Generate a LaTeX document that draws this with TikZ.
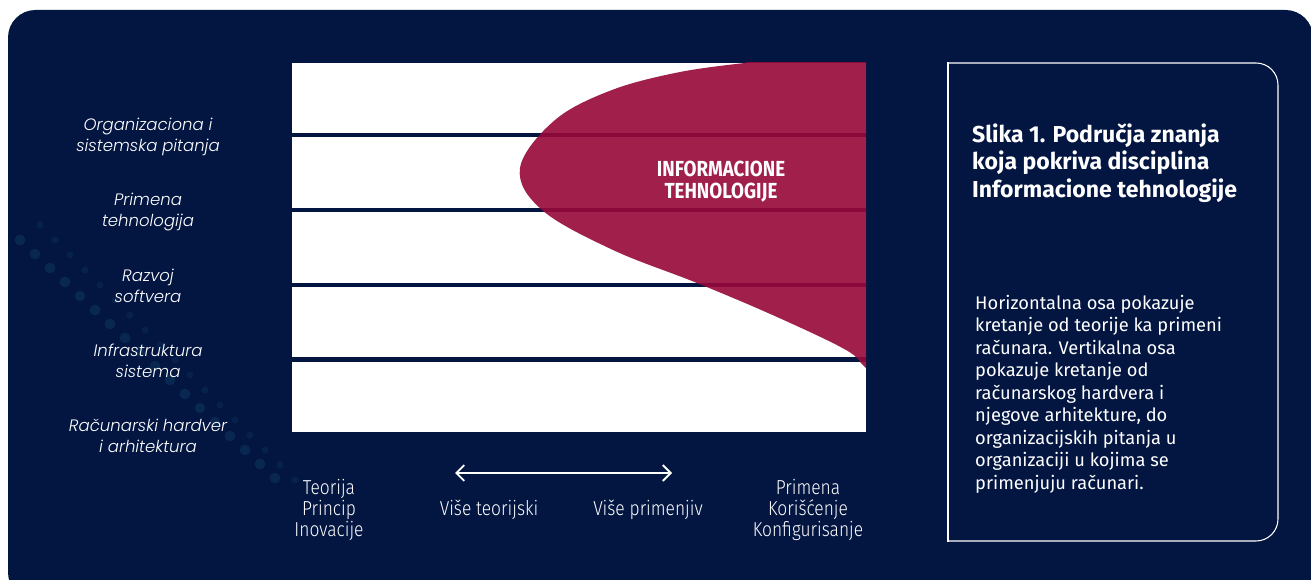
\documentclass[tikz,border=0pt]{standalone}
\usepackage{fontspec}
\setmainfont{Fira Sans}
\newfontfamily\sidefont{Poppins Light}
\newfontfamily\condfont[FakeStretch=0.86]{Fira Sans Light}
\newfontfamily\headfont[FakeStretch=0.86]{Fira Sans}
\usetikzlibrary{arrows.meta}
\definecolor{navy}{RGB}{3,22,66}
\definecolor{itred}{RGB}{151,9,58}
\definecolor{glow}{RGB}{40,140,170}
\tikzset{
  sidelbl/.style={text=white, align=center, font=\sidefont\itshape\fontsize{9.4}{11.9}\selectfont},
  axislbl/.style={text=white, align=center, font=\condfont\fontsize{11.5}{12}\selectfont},
  band/.style={draw=navy, line width=2.8pt},
}

\begin{document}
\begin{tikzpicture}[x=0.02cm, y=-0.02cm]
    \useasboundingbox (0,0) rectangle (1311,580);
    \fill[navy, rounded corners=0.55cm] (8,10) rectangle (1313,600);
    \foreach \i in {0,...,17} {
      \fill[glow, opacity=0.16] (20+15*\i,240+14*\i) circle (3pt);
      \fill[glow, opacity=0.10] (40+15*\i,225+15*\i) circle (2pt);
    }
    \fill[white] (292,63) rectangle (866,432);
    \foreach \y in {135,210,285,359.5} {
      \draw[band] (292,\y) -- (866,\y);
    }
    \begin{scope}
      \clip (292,63) rectangle (866,432);
      \fill[itred, fill opacity=0.91] (900,40) -- (790,40) -- plot[smooth, tension=0.6] coordinates
        {(745,63) (680,72) (612,90) (555,120) (520,168) (542,210) (613,250) (697,283) (777,317) (846,350) (866,368) (900,395)} -- cycle;
    \end{scope}
    \node[text=white, align=center, font=\headfont\bfseries\fontsize{12.4}{12.5}\selectfont] (it) at (721,182) {INFORMACIONE\\TEHNOLOGIJE};

    \node[sidelbl] (org) at (148,137) {Organizaciona i\\sistemska pitanja};
    \node[sidelbl] (prim) at (148,212) {Primena\\tehnologija};
    \node[sidelbl] (razv) at (148,286) {Razvoj\\softvera};
    \node[sidelbl] (infra) at (148,361) {Infrastruktura\\sistema};
    \node[sidelbl] (hw) at (148,436) {Računarski hardver\\i arhitektura};

    \node[axislbl] (teor) at (329,510) {Teorija\\Princip\\Inovacije};
    \node[axislbl] (vteor) at (489,510) {Više teorijski};
    \node[axislbl] (vprim) at (648,510) {Više primenjiv};
    \node[axislbl] (primena) at (808,510) {Primena\\Korišćenje\\Konfigurisanje};
    \coordinate (arrL) at (455,473);
    \coordinate (arrR) at (672,473);
    \draw[white, line width=1.1pt, {Straight Barb[length=4.5pt,width=9pt]}-{Straight Barb[length=4.5pt,width=9pt]}] (arrL) -- (arrR);

    \draw[white, line width=0.6pt, rounded corners=0.44cm] (948,63) -- (1278,63) -- (1278,541) -- (948,541);
    \draw[white, line width=0.6pt, line cap=rect] (948,63) -- (948,541);
    \node[anchor=west, text=white, align=left, font=\bfseries\fontsize{13.1}{15.8}\selectfont] (title) at (966,163)
      {Slika 1. Područja znanja\\koja pokriva disciplina\\Informacione tehnologije};
    \node[anchor=west, text=white, align=left, font=\fontsize{10.4}{12.8}\selectfont] (desc) at (969,394)
      {Horizontalna osa pokazuje\\kretanje od teorije ka primeni\\računara. Vertikalna osa\\pokazuje kretanje od\\računarskog hardvera i\\njegove arhitekture, do\\organizacijskih pitanja u\\organizaciji u kojima se\\primenjuju računari.};
  \end{tikzpicture}
\end{document}
